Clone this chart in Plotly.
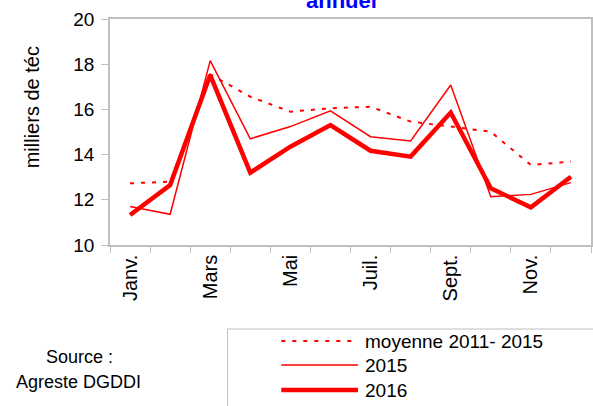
import plotly.graph_objects as go

months = ["Janv.", "Févr.", "Mars", "Avr.", "Mai", "Juin", "Juil.", "Août", "Sept.", "Oct.", "Nov.", "Déc."]
tick_labels = ["Janv.", "", "Mars", "", "Mai", "", "Juil.", "", "Sept.", "", "Nov.", ""]
series_names = ["moyenne 2011- 2015", "2015", "2016"]
moyenne_2011_2015 = [12.73, 12.8, 17.55, 16.56, 15.9, 16.05, 16.12, 15.46, 15.24, 15.01, 13.54, 13.69]
y2015 = [11.7, 11.36, 18.16, 14.7, 15.24, 15.94, 14.79, 14.6, 17.08, 12.14, 12.24, 12.76]
y2016 = [11.33, 12.65, 17.52, 13.2, 14.35, 15.31, 14.17, 13.91, 15.86, 12.51, 11.67, 13.02]

W, H = 593, 406
L, R, T, B = 110, 0, 19, 161
pw, ph = W - L - R, H - T - B

def px(x):
    return (x - L) / pw

def py(y):
    return (H - B - y) / ph

red = "#FF0000"
styles = [dict(color=red, width=2, dash="4px,7px"),
          dict(color=red, width=1.5),
          dict(color=red, width=4.5)]
data = [moyenne_2011_2015, y2015, y2016]

fig = go.Figure()
for name, vals, st in zip(series_names, data, styles):
    fig.add_trace(go.Scatter(x=months, y=vals, mode="lines", name=name, line=st,
                             showlegend=False))

font = "Arial, Liberation Sans, sans-serif"

shapes = [dict(type="rect", xref="paper", yref="paper", x0=px(228), x1=px(600),
               y0=py(412), y1=py(329), line=dict(color="#bfbfbf", width=1))]
annotations = [
    dict(text="<b>annuel</b>", xref="paper", yref="paper", x=px(342), y=py(15),
         xanchor="center", yanchor="bottom", showarrow=False,
         font=dict(size=22, color="#0000FF")),
    dict(text="milliers de téc", xref="paper", yref="paper", x=px(32), y=py(107),
         xanchor="center", yanchor="middle", textangle=-90, showarrow=False,
         font=dict(size=20)),
    dict(text="Source :", xref="paper", yref="paper", x=px(79), y=py(357),
         xanchor="center", yanchor="middle", showarrow=False, font=dict(size=18)),
    dict(text="Agreste DGDDI", xref="paper", yref="paper", x=px(78), y=py(382),
         xanchor="center", yanchor="middle", showarrow=False, font=dict(size=18)),
]
row_y = [341, 365, 390]
for name, st, ry in zip(series_names, styles, row_y):
    shapes.append(dict(type="line", xref="paper", yref="paper", x0=px(282), x1=px(359),
                       y0=py(ry), y1=py(ry), line=st))
    annotations.append(dict(text=name, xref="paper", yref="paper", x=px(364), y=py(ry),
                            xanchor="left", yanchor="middle", showarrow=False,
                            font=dict(size=19)))

fig.update_layout(
    width=W, height=H,
    margin=dict(l=L, r=R, t=T, b=B),
    paper_bgcolor="white", plot_bgcolor="white",
    font=dict(family=font, size=18, color="black"),
    showlegend=False,
    xaxis=dict(type="category", range=[-0.5, 11.5], tickmode="array", tickvals=months,
               ticktext=tick_labels, tickangle=-90, tickson="boundaries", ticks="outside",
               ticklen=6, tickcolor="#bfbfbf", showline=True, linecolor="#bfbfbf",
               linewidth=1.5, mirror=True, showgrid=False, tickfont=dict(size=20),
               zeroline=False),
    yaxis=dict(range=[10, 20], dtick=2, ticks="outside", ticklen=7, tickcolor="#bfbfbf",
               showline=True, linecolor="#bfbfbf", linewidth=1.5, mirror=True,
               showgrid=False, tickfont=dict(size=19), zeroline=False,
               ticklabelstandoff=3),
    shapes=shapes,
    annotations=annotations,
)

fig.write_html("out.html", config={"displayModeBar": False},
               post_script="document.body.style.margin='0';document.body.style.overflow='hidden';")
